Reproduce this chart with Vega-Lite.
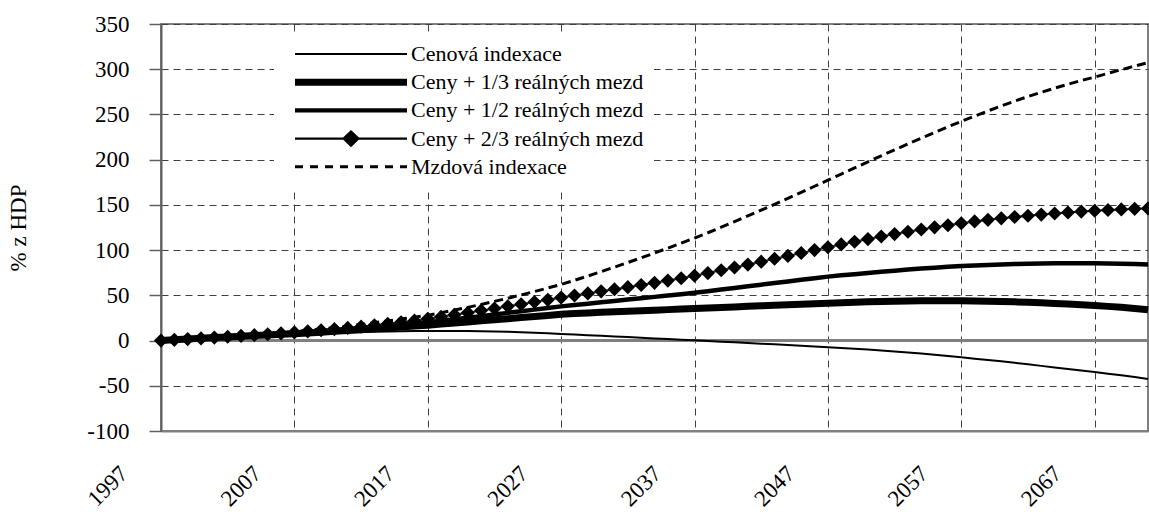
{
"$schema":"https://vega.github.io/schema/vega-lite/v6.json",
"width":987,"height":407,
"autosize":{"type":"none"},
"padding":{"left":161,"top":24,"right":1,"bottom":81},
"config":{"font":"Liberation Serif","view":{"stroke":"#808080","strokeWidth":2},"axis":{"labelFont":"Liberation Serif","titleFont":"Liberation Serif"},"legend":{"labelFont":"Liberation Serif"}},
"data":{"values":[
{"year":1997,"series":"Cenová indexace","value":0},{"year":1998,"series":"Cenová indexace","value":1.0},{"year":1999,"series":"Cenová indexace","value":2.0},{"year":2000,"series":"Cenová indexace","value":2.8},{"year":2001,"series":"Cenová indexace","value":3.5},{"year":2002,"series":"Cenová indexace","value":4.2},{"year":2003,"series":"Cenová indexace","value":4.9},{"year":2004,"series":"Cenová indexace","value":5.5},{"year":2005,"series":"Cenová indexace","value":6.1},{"year":2006,"series":"Cenová indexace","value":6.7},{"year":2007,"series":"Cenová indexace","value":7.3},{"year":2008,"series":"Cenová indexace","value":7.8},{"year":2009,"series":"Cenová indexace","value":8.3},{"year":2010,"series":"Cenová indexace","value":8.7},{"year":2011,"series":"Cenová indexace","value":9.1},{"year":2012,"series":"Cenová indexace","value":9.5},{"year":2013,"series":"Cenová indexace","value":9.8},{"year":2014,"series":"Cenová indexace","value":10.1},{"year":2015,"series":"Cenová indexace","value":10.3},{"year":2016,"series":"Cenová indexace","value":10.5},{"year":2017,"series":"Cenová indexace","value":10.6},{"year":2018,"series":"Cenová indexace","value":10.7},{"year":2019,"series":"Cenová indexace","value":10.7},{"year":2020,"series":"Cenová indexace","value":10.6},{"year":2021,"series":"Cenová indexace","value":10.4},{"year":2022,"series":"Cenová indexace","value":10.1},{"year":2023,"series":"Cenová indexace","value":9.7},{"year":2024,"series":"Cenová indexace","value":9.2},{"year":2025,"series":"Cenová indexace","value":8.6},{"year":2026,"series":"Cenová indexace","value":8.0},{"year":2027,"series":"Cenová indexace","value":7.3},{"year":2028,"series":"Cenová indexace","value":6.6},{"year":2029,"series":"Cenová indexace","value":5.9},{"year":2030,"series":"Cenová indexace","value":5.2},{"year":2031,"series":"Cenová indexace","value":4.5},{"year":2032,"series":"Cenová indexace","value":3.8},{"year":2033,"series":"Cenová indexace","value":3.1},{"year":2034,"series":"Cenová indexace","value":2.4},{"year":2035,"series":"Cenová indexace","value":1.7},{"year":2036,"series":"Cenová indexace","value":1.0},{"year":2037,"series":"Cenová indexace","value":0.3},{"year":2038,"series":"Cenová indexace","value":-0.5},{"year":2039,"series":"Cenová indexace","value":-1.3},{"year":2040,"series":"Cenová indexace","value":-2.0},{"year":2041,"series":"Cenová indexace","value":-2.8},{"year":2042,"series":"Cenová indexace","value":-3.5},{"year":2043,"series":"Cenová indexace","value":-4.2},{"year":2044,"series":"Cenová indexace","value":-5.0},{"year":2045,"series":"Cenová indexace","value":-5.8},{"year":2046,"series":"Cenová indexace","value":-6.5},{"year":2047,"series":"Cenová indexace","value":-7.3},{"year":2048,"series":"Cenová indexace","value":-8.2},{"year":2049,"series":"Cenová indexace","value":-9.1},{"year":2050,"series":"Cenová indexace","value":-10.0},{"year":2051,"series":"Cenová indexace","value":-11.0},{"year":2052,"series":"Cenová indexace","value":-12.0},{"year":2053,"series":"Cenová indexace","value":-13.2},{"year":2054,"series":"Cenová indexace","value":-14.4},{"year":2055,"series":"Cenová indexace","value":-15.7},{"year":2056,"series":"Cenová indexace","value":-17.0},{"year":2057,"series":"Cenová indexace","value":-18.5},{"year":2058,"series":"Cenová indexace","value":-20.0},{"year":2059,"series":"Cenová indexace","value":-21.5},{"year":2060,"series":"Cenová indexace","value":-23.0},{"year":2061,"series":"Cenová indexace","value":-24.6},{"year":2062,"series":"Cenová indexace","value":-26.3},{"year":2063,"series":"Cenová indexace","value":-28.0},{"year":2064,"series":"Cenová indexace","value":-29.7},{"year":2065,"series":"Cenová indexace","value":-31.4},{"year":2066,"series":"Cenová indexace","value":-33.1},{"year":2067,"series":"Cenová indexace","value":-34.8},{"year":2068,"series":"Cenová indexace","value":-36.6},{"year":2069,"series":"Cenová indexace","value":-38.4},{"year":2070,"series":"Cenová indexace","value":-40.3},{"year":2071,"series":"Cenová indexace","value":-42.5},
{"year":1997,"series":"Ceny + 1/3 reálných mezd","value":0},{"year":1998,"series":"Ceny + 1/3 reálných mezd","value":0.9},{"year":1999,"series":"Ceny + 1/3 reálných mezd","value":1.7},{"year":2000,"series":"Ceny + 1/3 reálných mezd","value":2.5},{"year":2001,"series":"Ceny + 1/3 reálných mezd","value":3.3},{"year":2002,"series":"Ceny + 1/3 reálných mezd","value":4.0},{"year":2003,"series":"Ceny + 1/3 reálných mezd","value":4.8},{"year":2004,"series":"Ceny + 1/3 reálných mezd","value":5.5},{"year":2005,"series":"Ceny + 1/3 reálných mezd","value":6.2},{"year":2006,"series":"Ceny + 1/3 reálných mezd","value":6.9},{"year":2007,"series":"Ceny + 1/3 reálných mezd","value":7.6},{"year":2008,"series":"Ceny + 1/3 reálných mezd","value":8.4},{"year":2009,"series":"Ceny + 1/3 reálných mezd","value":9.3},{"year":2010,"series":"Ceny + 1/3 reálných mezd","value":10.2},{"year":2011,"series":"Ceny + 1/3 reálných mezd","value":11.1},{"year":2012,"series":"Ceny + 1/3 reálných mezd","value":12.0},{"year":2013,"series":"Ceny + 1/3 reálných mezd","value":13.0},{"year":2014,"series":"Ceny + 1/3 reálných mezd","value":14.0},{"year":2015,"series":"Ceny + 1/3 reálných mezd","value":15.0},{"year":2016,"series":"Ceny + 1/3 reálných mezd","value":16.0},{"year":2017,"series":"Ceny + 1/3 reálných mezd","value":17.0},{"year":2018,"series":"Ceny + 1/3 reálných mezd","value":18.2},{"year":2019,"series":"Ceny + 1/3 reálných mezd","value":19.4},{"year":2020,"series":"Ceny + 1/3 reálných mezd","value":20.6},{"year":2021,"series":"Ceny + 1/3 reálných mezd","value":21.8},{"year":2022,"series":"Ceny + 1/3 reálných mezd","value":23.0},{"year":2023,"series":"Ceny + 1/3 reálných mezd","value":24.2},{"year":2024,"series":"Ceny + 1/3 reálných mezd","value":25.4},{"year":2025,"series":"Ceny + 1/3 reálných mezd","value":26.6},{"year":2026,"series":"Ceny + 1/3 reálných mezd","value":27.8},{"year":2027,"series":"Ceny + 1/3 reálných mezd","value":29.0},{"year":2028,"series":"Ceny + 1/3 reálných mezd","value":29.8},{"year":2029,"series":"Ceny + 1/3 reálných mezd","value":30.5},{"year":2030,"series":"Ceny + 1/3 reálných mezd","value":31.2},{"year":2031,"series":"Ceny + 1/3 reálných mezd","value":31.8},{"year":2032,"series":"Ceny + 1/3 reálných mezd","value":32.4},{"year":2033,"series":"Ceny + 1/3 reálných mezd","value":33.0},{"year":2034,"series":"Ceny + 1/3 reálných mezd","value":33.6},{"year":2035,"series":"Ceny + 1/3 reálných mezd","value":34.2},{"year":2036,"series":"Ceny + 1/3 reálných mezd","value":34.8},{"year":2037,"series":"Ceny + 1/3 reálných mezd","value":35.4},{"year":2038,"series":"Ceny + 1/3 reálných mezd","value":36.0},{"year":2039,"series":"Ceny + 1/3 reálných mezd","value":36.6},{"year":2040,"series":"Ceny + 1/3 reálných mezd","value":37.2},{"year":2041,"series":"Ceny + 1/3 reálných mezd","value":37.8},{"year":2042,"series":"Ceny + 1/3 reálných mezd","value":38.4},{"year":2043,"series":"Ceny + 1/3 reálných mezd","value":39.0},{"year":2044,"series":"Ceny + 1/3 reálných mezd","value":39.6},{"year":2045,"series":"Ceny + 1/3 reálných mezd","value":40.2},{"year":2046,"series":"Ceny + 1/3 reálných mezd","value":40.8},{"year":2047,"series":"Ceny + 1/3 reálných mezd","value":41.3},{"year":2048,"series":"Ceny + 1/3 reálných mezd","value":41.8},{"year":2049,"series":"Ceny + 1/3 reálných mezd","value":42.3},{"year":2050,"series":"Ceny + 1/3 reálných mezd","value":42.8},{"year":2051,"series":"Ceny + 1/3 reálných mezd","value":43.2},{"year":2052,"series":"Ceny + 1/3 reálných mezd","value":43.5},{"year":2053,"series":"Ceny + 1/3 reálných mezd","value":43.8},{"year":2054,"series":"Ceny + 1/3 reálných mezd","value":44.0},{"year":2055,"series":"Ceny + 1/3 reálných mezd","value":44.1},{"year":2056,"series":"Ceny + 1/3 reálných mezd","value":44.1},{"year":2057,"series":"Ceny + 1/3 reálných mezd","value":44.0},{"year":2058,"series":"Ceny + 1/3 reálných mezd","value":43.8},{"year":2059,"series":"Ceny + 1/3 reálných mezd","value":43.5},{"year":2060,"series":"Ceny + 1/3 reálných mezd","value":43.2},{"year":2061,"series":"Ceny + 1/3 reálných mezd","value":42.8},{"year":2062,"series":"Ceny + 1/3 reálných mezd","value":42.3},{"year":2063,"series":"Ceny + 1/3 reálných mezd","value":41.7},{"year":2064,"series":"Ceny + 1/3 reálných mezd","value":41.1},{"year":2065,"series":"Ceny + 1/3 reálných mezd","value":40.4},{"year":2066,"series":"Ceny + 1/3 reálných mezd","value":39.6},{"year":2067,"series":"Ceny + 1/3 reálných mezd","value":38.8},{"year":2068,"series":"Ceny + 1/3 reálných mezd","value":37.8},{"year":2069,"series":"Ceny + 1/3 reálných mezd","value":36.7},{"year":2070,"series":"Ceny + 1/3 reálných mezd","value":35.5},{"year":2071,"series":"Ceny + 1/3 reálných mezd","value":34.0},
{"year":1997,"series":"Ceny + 1/2 reálných mezd","value":0},{"year":1998,"series":"Ceny + 1/2 reálných mezd","value":0.8},{"year":1999,"series":"Ceny + 1/2 reálných mezd","value":1.6},{"year":2000,"series":"Ceny + 1/2 reálných mezd","value":2.4},{"year":2001,"series":"Ceny + 1/2 reálných mezd","value":3.2},{"year":2002,"series":"Ceny + 1/2 reálných mezd","value":4.0},{"year":2003,"series":"Ceny + 1/2 reálných mezd","value":4.8},{"year":2004,"series":"Ceny + 1/2 reálných mezd","value":5.6},{"year":2005,"series":"Ceny + 1/2 reálných mezd","value":6.4},{"year":2006,"series":"Ceny + 1/2 reálných mezd","value":7.2},{"year":2007,"series":"Ceny + 1/2 reálných mezd","value":8.0},{"year":2008,"series":"Ceny + 1/2 reálných mezd","value":9.0},{"year":2009,"series":"Ceny + 1/2 reálných mezd","value":10.1},{"year":2010,"series":"Ceny + 1/2 reálných mezd","value":11.2},{"year":2011,"series":"Ceny + 1/2 reálných mezd","value":12.4},{"year":2012,"series":"Ceny + 1/2 reálných mezd","value":13.6},{"year":2013,"series":"Ceny + 1/2 reálných mezd","value":14.9},{"year":2014,"series":"Ceny + 1/2 reálných mezd","value":16.2},{"year":2015,"series":"Ceny + 1/2 reálných mezd","value":17.5},{"year":2016,"series":"Ceny + 1/2 reálných mezd","value":18.8},{"year":2017,"series":"Ceny + 1/2 reálných mezd","value":20.2},{"year":2018,"series":"Ceny + 1/2 reálných mezd","value":21.8},{"year":2019,"series":"Ceny + 1/2 reálných mezd","value":23.5},{"year":2020,"series":"Ceny + 1/2 reálných mezd","value":25.2},{"year":2021,"series":"Ceny + 1/2 reálných mezd","value":27.0},{"year":2022,"series":"Ceny + 1/2 reálných mezd","value":28.8},{"year":2023,"series":"Ceny + 1/2 reálných mezd","value":30.6},{"year":2024,"series":"Ceny + 1/2 reálných mezd","value":32.4},{"year":2025,"series":"Ceny + 1/2 reálných mezd","value":34.2},{"year":2026,"series":"Ceny + 1/2 reálných mezd","value":36.0},{"year":2027,"series":"Ceny + 1/2 reálných mezd","value":37.8},{"year":2028,"series":"Ceny + 1/2 reálných mezd","value":39.3},{"year":2029,"series":"Ceny + 1/2 reálných mezd","value":40.8},{"year":2030,"series":"Ceny + 1/2 reálných mezd","value":42.3},{"year":2031,"series":"Ceny + 1/2 reálných mezd","value":43.8},{"year":2032,"series":"Ceny + 1/2 reálných mezd","value":45.3},{"year":2033,"series":"Ceny + 1/2 reálných mezd","value":46.8},{"year":2034,"series":"Ceny + 1/2 reálných mezd","value":48.3},{"year":2035,"series":"Ceny + 1/2 reálných mezd","value":49.8},{"year":2036,"series":"Ceny + 1/2 reálných mezd","value":51.3},{"year":2037,"series":"Ceny + 1/2 reálných mezd","value":52.8},{"year":2038,"series":"Ceny + 1/2 reálných mezd","value":54.6},{"year":2039,"series":"Ceny + 1/2 reálných mezd","value":56.4},{"year":2040,"series":"Ceny + 1/2 reálných mezd","value":58.2},{"year":2041,"series":"Ceny + 1/2 reálných mezd","value":60.0},{"year":2042,"series":"Ceny + 1/2 reálných mezd","value":61.8},{"year":2043,"series":"Ceny + 1/2 reálných mezd","value":63.6},{"year":2044,"series":"Ceny + 1/2 reálných mezd","value":65.4},{"year":2045,"series":"Ceny + 1/2 reálných mezd","value":67.2},{"year":2046,"series":"Ceny + 1/2 reálných mezd","value":69.0},{"year":2047,"series":"Ceny + 1/2 reálných mezd","value":70.7},{"year":2048,"series":"Ceny + 1/2 reálných mezd","value":72.1},{"year":2049,"series":"Ceny + 1/2 reálných mezd","value":73.4},{"year":2050,"series":"Ceny + 1/2 reálných mezd","value":74.7},{"year":2051,"series":"Ceny + 1/2 reálných mezd","value":76.0},{"year":2052,"series":"Ceny + 1/2 reálných mezd","value":77.3},{"year":2053,"series":"Ceny + 1/2 reálných mezd","value":78.5},{"year":2054,"series":"Ceny + 1/2 reálných mezd","value":79.6},{"year":2055,"series":"Ceny + 1/2 reálných mezd","value":80.6},{"year":2056,"series":"Ceny + 1/2 reálných mezd","value":81.5},{"year":2057,"series":"Ceny + 1/2 reálných mezd","value":82.3},{"year":2058,"series":"Ceny + 1/2 reálných mezd","value":83.0},{"year":2059,"series":"Ceny + 1/2 reálných mezd","value":83.6},{"year":2060,"series":"Ceny + 1/2 reálných mezd","value":84.1},{"year":2061,"series":"Ceny + 1/2 reálných mezd","value":84.6},{"year":2062,"series":"Ceny + 1/2 reálných mezd","value":85.0},{"year":2063,"series":"Ceny + 1/2 reálných mezd","value":85.3},{"year":2064,"series":"Ceny + 1/2 reálných mezd","value":85.5},{"year":2065,"series":"Ceny + 1/2 reálných mezd","value":85.6},{"year":2066,"series":"Ceny + 1/2 reálných mezd","value":85.6},{"year":2067,"series":"Ceny + 1/2 reálných mezd","value":85.5},{"year":2068,"series":"Ceny + 1/2 reálných mezd","value":85.3},{"year":2069,"series":"Ceny + 1/2 reálných mezd","value":85.0},{"year":2070,"series":"Ceny + 1/2 reálných mezd","value":84.6},{"year":2071,"series":"Ceny + 1/2 reálných mezd","value":84.1},
{"year":1997,"series":"Ceny + 2/3 reálných mezd","value":0},{"year":1998,"series":"Ceny + 2/3 reálných mezd","value":0.8},{"year":1999,"series":"Ceny + 2/3 reálných mezd","value":1.6},{"year":2000,"series":"Ceny + 2/3 reálných mezd","value":2.4},{"year":2001,"series":"Ceny + 2/3 reálných mezd","value":3.3},{"year":2002,"series":"Ceny + 2/3 reálných mezd","value":4.2},{"year":2003,"series":"Ceny + 2/3 reálných mezd","value":5.1},{"year":2004,"series":"Ceny + 2/3 reálných mezd","value":6.0},{"year":2005,"series":"Ceny + 2/3 reálných mezd","value":7.0},{"year":2006,"series":"Ceny + 2/3 reálných mezd","value":8.0},{"year":2007,"series":"Ceny + 2/3 reálných mezd","value":9.0},{"year":2008,"series":"Ceny + 2/3 reálných mezd","value":10.2},{"year":2009,"series":"Ceny + 2/3 reálných mezd","value":11.4},{"year":2010,"series":"Ceny + 2/3 reálných mezd","value":12.7},{"year":2011,"series":"Ceny + 2/3 reálných mezd","value":14.0},{"year":2012,"series":"Ceny + 2/3 reálných mezd","value":15.4},{"year":2013,"series":"Ceny + 2/3 reálných mezd","value":16.9},{"year":2014,"series":"Ceny + 2/3 reálných mezd","value":18.5},{"year":2015,"series":"Ceny + 2/3 reálných mezd","value":20.2},{"year":2016,"series":"Ceny + 2/3 reálných mezd","value":22.0},{"year":2017,"series":"Ceny + 2/3 reálných mezd","value":24.0},{"year":2018,"series":"Ceny + 2/3 reálných mezd","value":26.2},{"year":2019,"series":"Ceny + 2/3 reálných mezd","value":28.5},{"year":2020,"series":"Ceny + 2/3 reálných mezd","value":30.8},{"year":2021,"series":"Ceny + 2/3 reálných mezd","value":33.1},{"year":2022,"series":"Ceny + 2/3 reálných mezd","value":35.4},{"year":2023,"series":"Ceny + 2/3 reálných mezd","value":37.8},{"year":2024,"series":"Ceny + 2/3 reálných mezd","value":40.2},{"year":2025,"series":"Ceny + 2/3 reálných mezd","value":42.6},{"year":2026,"series":"Ceny + 2/3 reálných mezd","value":45.0},{"year":2027,"series":"Ceny + 2/3 reálných mezd","value":47.5},{"year":2028,"series":"Ceny + 2/3 reálných mezd","value":49.8},{"year":2029,"series":"Ceny + 2/3 reálných mezd","value":52.1},{"year":2030,"series":"Ceny + 2/3 reálných mezd","value":54.4},{"year":2031,"series":"Ceny + 2/3 reálných mezd","value":56.7},{"year":2032,"series":"Ceny + 2/3 reálných mezd","value":59.0},{"year":2033,"series":"Ceny + 2/3 reálných mezd","value":61.4},{"year":2034,"series":"Ceny + 2/3 reálných mezd","value":63.8},{"year":2035,"series":"Ceny + 2/3 reálných mezd","value":66.3},{"year":2036,"series":"Ceny + 2/3 reálných mezd","value":68.9},{"year":2037,"series":"Ceny + 2/3 reálných mezd","value":71.6},{"year":2038,"series":"Ceny + 2/3 reálných mezd","value":74.6},{"year":2039,"series":"Ceny + 2/3 reálných mezd","value":77.7},{"year":2040,"series":"Ceny + 2/3 reálných mezd","value":80.8},{"year":2041,"series":"Ceny + 2/3 reálných mezd","value":84.0},{"year":2042,"series":"Ceny + 2/3 reálných mezd","value":87.2},{"year":2043,"series":"Ceny + 2/3 reálných mezd","value":90.4},{"year":2044,"series":"Ceny + 2/3 reálných mezd","value":93.6},{"year":2045,"series":"Ceny + 2/3 reálných mezd","value":96.8},{"year":2046,"series":"Ceny + 2/3 reálných mezd","value":100.0},{"year":2047,"series":"Ceny + 2/3 reálných mezd","value":103.2},{"year":2048,"series":"Ceny + 2/3 reálných mezd","value":106.3},{"year":2049,"series":"Ceny + 2/3 reálných mezd","value":109.3},{"year":2050,"series":"Ceny + 2/3 reálných mezd","value":112.2},{"year":2051,"series":"Ceny + 2/3 reálných mezd","value":115.0},{"year":2052,"series":"Ceny + 2/3 reálných mezd","value":117.7},{"year":2053,"series":"Ceny + 2/3 reálných mezd","value":120.3},{"year":2054,"series":"Ceny + 2/3 reálných mezd","value":122.8},{"year":2055,"series":"Ceny + 2/3 reálných mezd","value":125.2},{"year":2056,"series":"Ceny + 2/3 reálných mezd","value":127.5},{"year":2057,"series":"Ceny + 2/3 reálných mezd","value":129.7},{"year":2058,"series":"Ceny + 2/3 reálných mezd","value":131.7},{"year":2059,"series":"Ceny + 2/3 reálných mezd","value":133.5},{"year":2060,"series":"Ceny + 2/3 reálných mezd","value":135.1},{"year":2061,"series":"Ceny + 2/3 reálných mezd","value":136.6},{"year":2062,"series":"Ceny + 2/3 reálných mezd","value":138.0},{"year":2063,"series":"Ceny + 2/3 reálných mezd","value":139.3},{"year":2064,"series":"Ceny + 2/3 reálných mezd","value":140.5},{"year":2065,"series":"Ceny + 2/3 reálných mezd","value":141.6},{"year":2066,"series":"Ceny + 2/3 reálných mezd","value":142.6},{"year":2067,"series":"Ceny + 2/3 reálných mezd","value":143.5},{"year":2068,"series":"Ceny + 2/3 reálných mezd","value":144.3},{"year":2069,"series":"Ceny + 2/3 reálných mezd","value":145.0},{"year":2070,"series":"Ceny + 2/3 reálných mezd","value":145.6},{"year":2071,"series":"Ceny + 2/3 reálných mezd","value":146.1},
{"year":1997,"series":"Mzdová indexace","value":0},{"year":1998,"series":"Mzdová indexace","value":0.8},{"year":1999,"series":"Mzdová indexace","value":1.6},{"year":2000,"series":"Mzdová indexace","value":2.5},{"year":2001,"series":"Mzdová indexace","value":3.4},{"year":2002,"series":"Mzdová indexace","value":4.4},{"year":2003,"series":"Mzdová indexace","value":5.4},{"year":2004,"series":"Mzdová indexace","value":6.4},{"year":2005,"series":"Mzdová indexace","value":7.5},{"year":2006,"series":"Mzdová indexace","value":8.6},{"year":2007,"series":"Mzdová indexace","value":9.8},{"year":2008,"series":"Mzdová indexace","value":11.2},{"year":2009,"series":"Mzdová indexace","value":12.7},{"year":2010,"series":"Mzdová indexace","value":14.3},{"year":2011,"series":"Mzdová indexace","value":16.0},{"year":2012,"series":"Mzdová indexace","value":17.8},{"year":2013,"series":"Mzdová indexace","value":19.7},{"year":2014,"series":"Mzdová indexace","value":21.7},{"year":2015,"series":"Mzdová indexace","value":23.8},{"year":2016,"series":"Mzdová indexace","value":25.9},{"year":2017,"series":"Mzdová indexace","value":28.0},{"year":2018,"series":"Mzdová indexace","value":30.8},{"year":2019,"series":"Mzdová indexace","value":33.7},{"year":2020,"series":"Mzdová indexace","value":36.7},{"year":2021,"series":"Mzdová indexace","value":39.9},{"year":2022,"series":"Mzdová indexace","value":43.3},{"year":2023,"series":"Mzdová indexace","value":46.8},{"year":2024,"series":"Mzdová indexace","value":50.4},{"year":2025,"series":"Mzdová indexace","value":54.2},{"year":2026,"series":"Mzdová indexace","value":58.1},{"year":2027,"series":"Mzdová indexace","value":62.1},{"year":2028,"series":"Mzdová indexace","value":66.6},{"year":2029,"series":"Mzdová indexace","value":71.3},{"year":2030,"series":"Mzdová indexace","value":76.2},{"year":2031,"series":"Mzdová indexace","value":81.2},{"year":2032,"series":"Mzdová indexace","value":86.3},{"year":2033,"series":"Mzdová indexace","value":91.5},{"year":2034,"series":"Mzdová indexace","value":96.8},{"year":2035,"series":"Mzdová indexace","value":102.2},{"year":2036,"series":"Mzdová indexace","value":107.7},{"year":2037,"series":"Mzdová indexace","value":113.3},{"year":2038,"series":"Mzdová indexace","value":119.2},{"year":2039,"series":"Mzdová indexace","value":125.3},{"year":2040,"series":"Mzdová indexace","value":131.5},{"year":2041,"series":"Mzdová indexace","value":137.8},{"year":2042,"series":"Mzdová indexace","value":144.2},{"year":2043,"series":"Mzdová indexace","value":150.7},{"year":2044,"series":"Mzdová indexace","value":157.3},{"year":2045,"series":"Mzdová indexace","value":163.9},{"year":2046,"series":"Mzdová indexace","value":170.6},{"year":2047,"series":"Mzdová indexace","value":177.3},{"year":2048,"series":"Mzdová indexace","value":184.1},{"year":2049,"series":"Mzdová indexace","value":190.9},{"year":2050,"series":"Mzdová indexace","value":197.6},{"year":2051,"series":"Mzdová indexace","value":204.3},{"year":2052,"series":"Mzdová indexace","value":210.9},{"year":2053,"series":"Mzdová indexace","value":217.4},{"year":2054,"series":"Mzdová indexace","value":223.8},{"year":2055,"series":"Mzdová indexace","value":230.1},{"year":2056,"series":"Mzdová indexace","value":236.3},{"year":2057,"series":"Mzdová indexace","value":242.3},{"year":2058,"series":"Mzdová indexace","value":248.2},{"year":2059,"series":"Mzdová indexace","value":253.9},{"year":2060,"series":"Mzdová indexace","value":259.4},{"year":2061,"series":"Mzdová indexace","value":264.7},{"year":2062,"series":"Mzdová indexace","value":269.7},{"year":2063,"series":"Mzdová indexace","value":274.5},{"year":2064,"series":"Mzdová indexace","value":279.1},{"year":2065,"series":"Mzdová indexace","value":283.4},{"year":2066,"series":"Mzdová indexace","value":287.5},{"year":2067,"series":"Mzdová indexace","value":291.3},{"year":2068,"series":"Mzdová indexace","value":295.5},{"year":2069,"series":"Mzdová indexace","value":299.5},{"year":2070,"series":"Mzdová indexace","value":303.4},{"year":2071,"series":"Mzdová indexace","value":307.3}
]},
"encoding":{
"x":{"field":"year","type":"quantitative","scale":{"domain":[1997,2071],"nice":false,"zero":false},
"axis":{"title":null,"values":[1997,2007,2017,2027,2037,2047,2057,2067],"format":"d","grid":true,"gridDash":[7,5],"gridColor":"#404040","gridWidth":1,"ticks":false,"tickSize":0,"domainColor":"#808080","domainWidth":2,"labelAngle":-45,"labelAlign":"right","labelBaseline":"top","labelOffset":-45,"labelPadding":31,"labelFont":"Liberation Serif","labelFontSize":23,"labelColor":"black","labelFlush":false,"labelOverlap":false}},
"y":{"field":"value","type":"quantitative","scale":{"domain":[-100,350],"nice":false,"zero":false},
"axis":{"title":"% z HDP","titleFont":"Liberation Serif","titleFontSize":23,"titleFontWeight":"normal","titleColor":"black","titleX":-136,"titleBaseline":"alphabetic","titleAngle":270,"values":[-100,-50,0,50,100,150,200,250,300,350],"labelExpr":"'' + datum.value","grid":true,"gridDash":[7,5],"gridColor":"#404040","gridWidth":1,"tickSize":12,"tickColor":"#606060","tickWidth":1.5,"domainColor":"#606060","domainWidth":2,"labelPadding":20,"labelFont":"Liberation Serif","labelFontSize":23,"labelColor":"black","labelFlush":false,"labelOverlap":false}}
},
"layer":[
{"mark":{"type":"rule","color":"#808080","strokeWidth":2},"encoding":{"y":{"datum":0},"x":{"value":0},"x2":{"value":987}}},
{"transform":[{"filter":"datum.series !== 'Mzdová indexace'"}],
"mark":{"type":"line","strokeCap":"butt","strokeJoin":"round"},
"encoding":{
"detail":{"field":"series","type":"nominal"},
"strokeWidth":{"condition":[{"test":"datum.series === 'Ceny + 1/3 reálných mezd'","value":7},{"test":"datum.series === 'Ceny + 1/2 reálných mezd'","value":4.5}],"value":2},
"color":{"condition":{"test":"datum.series === 'Ceny + 2/3 reálných mezd'","value":"#333333"},"value":"#000000"}
}},
{"transform":[{"filter":"datum.series === 'Ceny + 2/3 reálných mezd'"}],
"mark":{"type":"point","shape":"diamond","filled":true,"color":"#000000","size":200,"opacity":1,"strokeWidth":0},
"encoding":{}},
{"transform":[{"filter":"datum.series === 'Mzdová indexace'"}],
"mark":{"type":"line","color":"#000000","strokeWidth":3,"strokeDash":[9,5],"strokeCap":"butt"},
"encoding":{}},
{"transform":[{"filter":"datum.year === 1997"}],
"mark":{"type":"point","filled":true,"color":"#000000","size":16,"opacity":0,"strokeWidth":0},
"encoding":{"shape":{"field":"series","type":"nominal","scale":{"domain":["Cenová indexace","Ceny + 1/3 reálných mezd","Ceny + 1/2 reálných mezd","Ceny + 2/3 reálných mezd","Mzdová indexace"],
"range":["M0,-0.5H56V0.5H0Z","M0,-1.75H56V1.75H0Z","M0,-1.1H56V1.1H0Z","M0,-0.55H56V0.55H0Z M28,-4.3L32.5,0L28,4.3L23.5,0Z","M0,-0.75H4V0.75H0Z M7.5,-0.75H11.5V0.75H7.5Z M15,-0.75H19V0.75H15Z M22.5,-0.75H26.5V0.75H22.5Z M30,-0.75H34V0.75H30Z M37.5,-0.75H41.5V0.75H37.5Z M45,-0.75H49V0.75H45Z M52.5,-0.75H56V0.75H52.5Z"]},
"legend":{"orient":"none","legendX":113,"legendY":9,"title":null,"symbolSize":16,"symbolOpacity":1,"symbolFillColor":"#000000","symbolStrokeWidth":0,"symbolOffset":0,"labelOffset":105,"labelFont":"Liberation Serif","labelFontSize":22,"labelColor":"black","labelLimit":500,"rowPadding":6.2,"padding":10,"fillColor":"white","strokeColor":null}}}}
]
}
